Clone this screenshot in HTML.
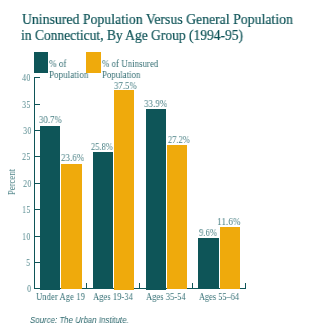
<!DOCTYPE html>
<html><head><meta charset="utf-8"><style>
html,body{margin:0;padding:0;background:#fff;width:304px;height:334px;overflow:hidden;position:relative}
.t{position:absolute;white-space:nowrap;transform-origin:0 0;will-change:transform}
</style></head><body>
<div id="title1" class="t" style="left:22.00px;top:12.00px;font-family:'Liberation Serif', serif;font-size:15px;line-height:15px;color:#0c5256;transform:scaleX(0.9193);-webkit-text-stroke:0.2px #0c5256">Uninsured Population Versus General Population</div>
<div id="title2" class="t" style="left:21.00px;top:28.00px;font-family:'Liberation Serif', serif;font-size:15px;line-height:15px;color:#0c5256;transform:scaleX(0.8997);-webkit-text-stroke:0.2px #0c5256">in Connecticut, By Age Group (1994-95)</div>
<div id="leg1" class="t" style="left:49.00px;top:58.00px;font-family:'Liberation Serif', serif;font-size:10px;line-height:11px;color:#356f74;transform:scaleX(0.9108);">% of<br>Population</div>
<div id="leg2" class="t" style="left:102.00px;top:58.00px;font-family:'Liberation Serif', serif;font-size:10px;line-height:11px;color:#356f74;transform:scaleX(0.8879);">% of Uninsured<br>Population</div>
<div id="v1" class="t" style="left:39.00px;top:115.00px;font-family:'Liberation Serif', serif;font-size:10px;line-height:10px;color:#4a8085;transform:scaleX(0.8800);">30.7%</div>
<div id="v2" class="t" style="left:61.00px;top:153.00px;font-family:'Liberation Serif', serif;font-size:10px;line-height:10px;color:#4a8085;transform:scaleX(0.8993);">23.6%</div>
<div id="v3" class="t" style="left:91.00px;top:142.00px;font-family:'Liberation Serif', serif;font-size:10px;line-height:10px;color:#4a8085;transform:scaleX(0.8446);">25.8%</div>
<div id="v4" class="t" style="left:114.00px;top:81.00px;font-family:'Liberation Serif', serif;font-size:10px;line-height:10px;color:#4a8085;transform:scaleX(0.8797);">37.5%</div>
<div id="v5" class="t" style="left:144.00px;top:99.00px;font-family:'Liberation Serif', serif;font-size:10px;line-height:10px;color:#4a8085;transform:scaleX(0.9000);">33.9%</div>
<div id="v6" class="t" style="left:168.00px;top:135.00px;font-family:'Liberation Serif', serif;font-size:10px;line-height:10px;color:#4a8085;transform:scaleX(0.8450);">27.2%</div>
<div id="v7" class="t" style="left:199.00px;top:228.00px;font-family:'Liberation Serif', serif;font-size:10px;line-height:10px;color:#4a8085;transform:scaleX(0.8657);">9.6%</div>
<div id="v8" class="t" style="left:217.00px;top:217.00px;font-family:'Liberation Serif', serif;font-size:10px;line-height:10px;color:#4a8085;transform:scaleX(0.9200);">11.6%</div>
<div id="x1" class="t" style="left:36.00px;top:292.00px;font-family:'Liberation Serif', serif;font-size:10.5px;line-height:10.5px;color:#3a7378;transform:scaleX(0.8300);">Under Age 19</div>
<div id="x2" class="t" style="left:93.00px;top:292.00px;font-family:'Liberation Serif', serif;font-size:10.5px;line-height:10.5px;color:#3a7378;transform:scaleX(0.8178);">Ages 19-34</div>
<div id="x3" class="t" style="left:146.00px;top:292.00px;font-family:'Liberation Serif', serif;font-size:10.5px;line-height:10.5px;color:#3a7378;transform:scaleX(0.8134);">Ages 35-54</div>
<div id="x4" class="t" style="left:199.00px;top:292.00px;font-family:'Liberation Serif', serif;font-size:10.5px;line-height:10.5px;color:#3a7378;transform:scaleX(0.7907);">Ages 55&ndash;64</div>
<div id="src" class="t" style="left:30.00px;top:316.00px;font-family:'Liberation Sans', sans-serif;font-size:8.5px;line-height:8.5px;color:#2d686d;transform:scaleX(0.9280);font-style:italic">Source: The Urban Institute.</div>
<div id="y40" class="t" style="left:auto;right:274.00px;top:73.00px;font-family:'Liberation Serif', serif;font-size:10.5px;line-height:10px;color:#5a8d92;transform:scaleX(0.8100);transform-origin:100% 0">40</div>
<div id="y35" class="t" style="left:auto;right:274.00px;top:100.00px;font-family:'Liberation Serif', serif;font-size:10.5px;line-height:10px;color:#5a8d92;transform:scaleX(0.8100);transform-origin:100% 0">35</div>
<div id="y30" class="t" style="left:auto;right:273.00px;top:126.00px;font-family:'Liberation Serif', serif;font-size:10.5px;line-height:10px;color:#5a8d92;transform:scaleX(0.8100);transform-origin:100% 0">30</div>
<div id="y25" class="t" style="left:auto;right:274.00px;top:152.00px;font-family:'Liberation Serif', serif;font-size:10.5px;line-height:10px;color:#5a8d92;transform:scaleX(0.8100);transform-origin:100% 0">25</div>
<div id="y20" class="t" style="left:auto;right:273.00px;top:179.00px;font-family:'Liberation Serif', serif;font-size:10.5px;line-height:10px;color:#5a8d92;transform:scaleX(0.8100);transform-origin:100% 0">20</div>
<div id="y15" class="t" style="left:auto;right:274.00px;top:205.00px;font-family:'Liberation Serif', serif;font-size:10.5px;line-height:10px;color:#5a8d92;transform:scaleX(0.8100);transform-origin:100% 0">15</div>
<div id="y10" class="t" style="left:auto;right:274.00px;top:232.00px;font-family:'Liberation Serif', serif;font-size:10.5px;line-height:10px;color:#5a8d92;transform:scaleX(0.8100);transform-origin:100% 0">10</div>
<div id="y5" class="t" style="left:auto;right:274.00px;top:258.00px;font-family:'Liberation Serif', serif;font-size:10.5px;line-height:10px;color:#5a8d92;transform:scaleX(0.8100);transform-origin:100% 0">5</div>
<div id="y0" class="t" style="left:auto;right:273.00px;top:284.00px;font-family:'Liberation Serif', serif;font-size:10.5px;line-height:10px;color:#5a8d92;transform:scaleX(0.8100);transform-origin:100% 0">0</div>
<div id="percent" class="t" style="left:-3.00px;top:177.00px;font-family:'Liberation Serif', serif;font-size:10px;line-height:10px;color:#4a8085;transform:rotate(-90deg) scaleX(0.8700);transform-origin:50% 50%;width:30px;text-align:center">Percent</div>
<div style="position:absolute;left:34px;top:52px;width:14px;height:21px;background:#0e5558"></div>
<div style="position:absolute;left:86px;top:52px;width:15px;height:21px;background:#efaa0c"></div>
<div style="position:absolute;left:34px;top:77px;width:1px;height:212px;background:#0e5558"></div>
<div style="position:absolute;left:34px;top:77px;width:6px;height:1px;background:#0e5558"></div>
<div style="position:absolute;left:34px;top:104px;width:6px;height:1px;background:#0e5558"></div>
<div style="position:absolute;left:34px;top:130px;width:6px;height:1px;background:#0e5558"></div>
<div style="position:absolute;left:34px;top:156px;width:6px;height:1px;background:#0e5558"></div>
<div style="position:absolute;left:34px;top:183px;width:6px;height:1px;background:#0e5558"></div>
<div style="position:absolute;left:34px;top:209px;width:6px;height:1px;background:#0e5558"></div>
<div style="position:absolute;left:34px;top:236px;width:6px;height:1px;background:#0e5558"></div>
<div style="position:absolute;left:34px;top:262px;width:6px;height:1px;background:#0e5558"></div>
<div style="position:absolute;left:34px;top:288px;width:212px;height:1px;background:#0e5558"></div>
<div style="position:absolute;left:86px;top:283px;width:1px;height:6px;background:#0e5558"></div>
<div style="position:absolute;left:139px;top:283px;width:1px;height:6px;background:#0e5558"></div>
<div style="position:absolute;left:192px;top:283px;width:1px;height:6px;background:#0e5558"></div>
<div style="position:absolute;left:245px;top:283px;width:1px;height:6px;background:#0e5558"></div>
<div style="position:absolute;left:40px;top:126px;width:20px;height:164px;background:#0e5558"></div>
<div style="position:absolute;left:61px;top:164px;width:21px;height:125px;background:#efaa0c"></div>
<div style="position:absolute;left:93px;top:152px;width:20px;height:137px;background:#0e5558"></div>
<div style="position:absolute;left:114px;top:90px;width:20px;height:200px;background:#efaa0c"></div>
<div style="position:absolute;left:146px;top:109px;width:20px;height:181px;background:#0e5558"></div>
<div style="position:absolute;left:167px;top:145px;width:20px;height:144px;background:#efaa0c"></div>
<div style="position:absolute;left:198px;top:238px;width:21px;height:51px;background:#0e5558"></div>
<div style="position:absolute;left:220px;top:227px;width:20px;height:62px;background:#efaa0c"></div>
</body></html>
